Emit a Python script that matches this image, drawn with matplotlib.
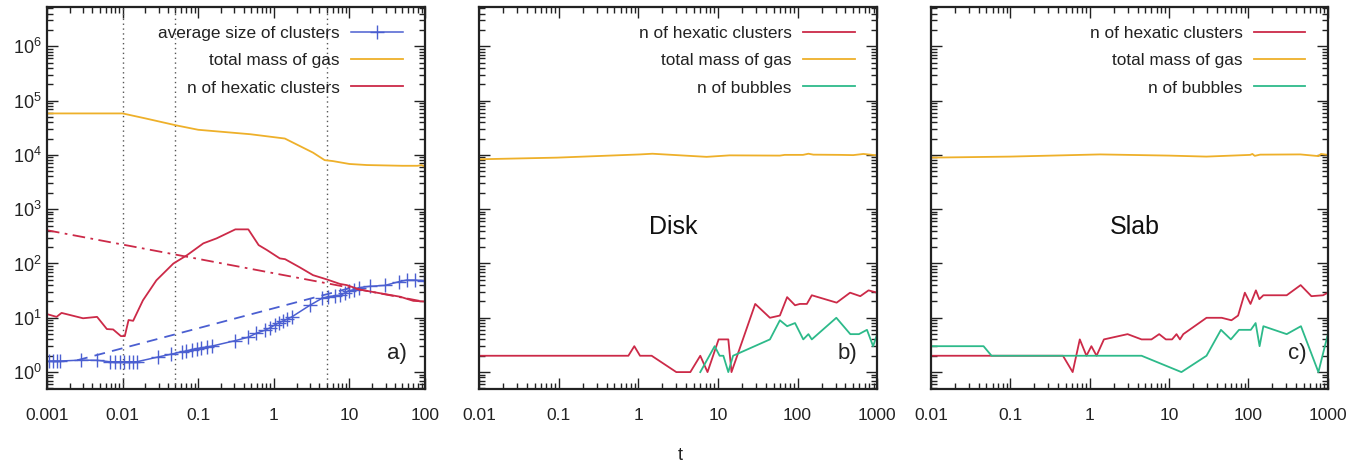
import matplotlib
matplotlib.use('Agg')
import matplotlib.pyplot as plt
from matplotlib.ticker import LogLocator, FixedLocator, FuncFormatter, NullFormatter

plt.rcParams['font.family'] = ['Liberation Sans', 'DejaVu Sans']
plt.rcParams['mathtext.fontset'] = 'custom'
plt.rcParams['mathtext.rm'] = 'Liberation Sans'
plt.rcParams['mathtext.it'] = 'Liberation Sans'

BLUE = '#4b5fd1'
ORANGE = '#eeb02a'
RED = '#cc2a48'
GREEN = '#2dba8a'

# ---- panel a) ----
a_size_t = [0.00107, 0.0012, 0.00134, 0.0015, 0.0028, 0.0046, 0.0068, 0.0079, 0.0093,
            0.0105, 0.012, 0.0136, 0.0154, 0.0296, 0.044, 0.061, 0.070, 0.082, 0.095,
            0.11, 0.13, 0.15, 0.31, 0.46, 0.59, 0.76, 0.89, 1.03, 1.17, 1.34, 1.51, 1.73,
            3.0, 4.3, 5.2, 6.4, 7.6, 8.8, 10, 11.5, 13.4, 18.6, 29.5, 44.6, 57, 74, 96]
a_size_v = [1.6, 1.6, 1.6, 1.6, 1.66, 1.65, 1.55, 1.55, 1.55,
            1.55, 1.55, 1.55, 1.55, 1.9, 2.14, 2.37, 2.45, 2.6, 2.7,
            2.8, 2.9, 3.0, 3.8, 4.4, 5.2, 5.9, 6.5, 7.4, 8.1, 8.8, 9.5, 10.4,
            17, 22.7, 24.4, 25.5, 26, 29, 31.5, 33, 36, 38, 39.5, 46, 49.5, 49.5, 48]

a_gas_t = [0.001, 0.003, 0.01, 0.02, 0.051, 0.1, 0.49, 1.4, 3.3, 4.7, 6, 10, 17, 50, 80, 90, 100]
a_gas_v = [58000, 58000, 58000, 47000, 35000, 29000, 24000, 20000, 11000, 8000, 7700,
           6800, 6500, 6300, 6300, 6500, 6000]

a_hex_t = [0.001, 0.00134, 0.00156, 0.003, 0.0046, 0.0062, 0.0075, 0.0095, 0.0107, 0.012,
           0.0138, 0.0186, 0.028, 0.047, 0.071, 0.117, 0.175, 0.31, 0.46, 0.63, 0.81,
           1.2, 1.41, 2.2, 3.3, 5.0, 7.5, 9.2, 13.8, 23, 47, 70, 96]
a_hex_v = [11.7, 10.4, 12.3, 9.8, 10.4, 6.2, 6.1, 4.6, 4.6, 9.1,
           8.8, 21, 49, 100, 142, 235, 290, 425, 425, 218, 177,
           124, 120, 85, 61, 51, 42, 40, 33, 29, 24.4, 20.5, 20]

# fitted guide lines (end points)
a_fit_hex_t = [0.001, 100]
a_fit_hex_v = [410, 19.6]
a_fit_size_t = [0.0025, 10]
a_fit_size_v = [1.65, 35]

a_marks = [0.01, 0.05, 5]

# ---- panel b) Disk ----
b_gas_t = [0.01, 0.095, 1.05, 1.5, 7.2, 14, 60, 69, 117, 137, 158, 345, 500, 670, 1000]
b_gas_v = [8300, 8900, 10200, 10500, 9200, 9800, 9700, 10000, 10000, 10500, 10100,
           10000, 9900, 10400, 9800]

b_hex_t = [0.01, 0.75, 0.89, 1.05, 1.47, 3.0, 4.5, 6.0, 7.4, 10.2, 13.5, 14.8, 29.4,
           45, 60, 74, 93, 107, 131, 151, 310, 457, 614, 780, 1000]
b_hex_v = [2, 2, 3, 2, 2, 1, 1, 2, 1, 4, 4, 1, 18,
           10, 11, 24, 17, 18, 18, 26, 19, 29, 25, 32, 29]

b_bub_t = [6.0, 9.1, 10.5, 11.7, 13.5, 15.5, 45, 60, 74, 93, 118, 137, 151, 307,
           460, 590, 745, 890, 1000]
b_bub_v = [1, 3, 2, 2, 1, 2, 4, 9, 7, 8, 4, 5, 4, 10,
           5, 5, 6, 3, 5]

# ---- panel c) Slab ----
c_gas_t = [0.01, 0.1, 1.35, 10, 29.5, 105, 112, 120, 140, 450, 760, 820, 1000]
c_gas_v = [8900, 9300, 10200, 9700, 9300, 10000, 10400, 9600, 10100, 10200, 9500,
           10400, 10000]

c_hex_t = [0.01, 0.46, 0.61, 0.75, 0.91, 1.05, 1.22, 1.51, 3.0, 4.5, 6.0, 7.5, 9.1,
           10.9, 12.4, 13.7, 15.1, 29.6, 46, 61, 74, 90, 106, 124, 137, 154, 303,
           454, 620, 870, 1000]
c_hex_v = [2, 2, 1, 4, 2, 3, 2, 4, 5, 4, 4, 5, 4,
           4, 5, 4, 5, 10, 10, 9, 11, 29, 18, 32, 22, 26, 26,
           40, 25, 26, 29]

c_bub_t = [0.01, 0.046, 0.058, 4.5, 14.3, 29.6, 45, 60, 76, 107, 123, 138, 154, 303,
           458, 760, 1000]
c_bub_v = [3, 3, 2, 2, 1, 2, 6, 4, 6, 6, 8, 3, 7, 5,
           7, 1, 5]

y_ticks = [1, 10, 100, 1000, 1e4, 1e5, 1e6]
tick_fmt = FuncFormatter(lambda v, p: '%g' % v)

fig = plt.figure(figsize=(13.65, 4.63), dpi=100)
ax_a = fig.add_axes([0.0344, 0.160, 0.277, 0.825])
ax_b = fig.add_axes([0.351, 0.160, 0.2916, 0.825])
ax_c = fig.add_axes([0.682, 0.160, 0.2908, 0.825])


def style_axis(ax, xticks, show_ylabels):
    ax.set_xscale('log')
    ax.set_yscale('log')
    ax.set_xlim(xticks[0], xticks[-1])
    ax.set_ylim(0.49, 5.3e6)
    ax.xaxis.set_major_locator(FixedLocator(xticks))
    ax.xaxis.set_minor_locator(LogLocator(base=10, subs=range(2, 10), numticks=50))
    ax.yaxis.set_major_locator(FixedLocator(y_ticks))
    ax.yaxis.set_minor_locator(LogLocator(base=10, subs=range(2, 10), numticks=50))
    ax.xaxis.set_major_formatter(tick_fmt)
    ax.xaxis.set_minor_formatter(NullFormatter())
    ax.yaxis.set_minor_formatter(NullFormatter())
    if not show_ylabels:
        ax.yaxis.set_major_formatter(NullFormatter())
    ax.tick_params(which='both', direction='in', top=True, right=True, width=1.0, color='#222222')
    ax.tick_params(which='major', length=8)
    ax.tick_params(which='minor', length=4)
    ax.tick_params(axis='x', which='major', pad=14, labelsize=12.5, labelcolor='#222222')
    ax.tick_params(axis='y', which='major', pad=4, labelsize=13, labelcolor='#222222')
    for s in ax.spines.values():
        s.set_linewidth(1.6)
        s.set_color('#222222')


# panel a
for m in a_marks:
    ax_a.axvline(m, color='#555555', linestyle=(0, (1, 2.5)), linewidth=1.0)
ax_a.plot(a_size_t, a_size_v, color=BLUE, lw=1.1, marker='+', ms=10, mew=1.0,
          label='average size of clusters')
ax_a.plot(a_gas_t, a_gas_v, color=ORANGE, lw=1.3, label='total mass of gas')
ax_a.plot(a_hex_t, a_hex_v, color=RED, lw=1.3, label='n of hexatic clusters')
ax_a.plot(a_fit_hex_t, a_fit_hex_v, color=RED, lw=1.3, linestyle=(0, (7, 3, 1.5, 3)))
ax_a.plot(a_fit_size_t, a_fit_size_v, color=BLUE, lw=1.3, linestyle=(0, (6, 4)))
style_axis(ax_a, [0.001, 0.01, 0.1, 1, 10, 100], True)
ax_a.text(0.926, 0.094, 'a)', transform=ax_a.transAxes, ha='center', va='center',
          fontsize=16, color='#222222')

# panel b
ax_b.plot(b_hex_t, b_hex_v, color=RED, lw=1.3, label='n of hexatic clusters')
ax_b.plot(b_gas_t, b_gas_v, color=ORANGE, lw=1.3, label='total mass of gas')
ax_b.plot(b_bub_t, b_bub_v, color=GREEN, lw=1.3, label='n of bubbles')
style_axis(ax_b, [0.01, 0.1, 1, 10, 100, 1000], False)
ax_b.text(0.487, 0.424, 'Disk', transform=ax_b.transAxes, ha='center', va='center',
          fontsize=18, color='#111111')
ax_b.text(0.925, 0.094, 'b)', transform=ax_b.transAxes, ha='center', va='center',
          fontsize=16, color='#222222')

# panel c
ax_c.plot(c_hex_t, c_hex_v, color=RED, lw=1.3, label='n of hexatic clusters')
ax_c.plot(c_gas_t, c_gas_v, color=ORANGE, lw=1.3, label='total mass of gas')
ax_c.plot(c_bub_t, c_bub_v, color=GREEN, lw=1.3, label='n of bubbles')
style_axis(ax_c, [0.01, 0.1, 1, 10, 100, 1000], False)
ax_c.text(0.514, 0.424, 'Slab', transform=ax_c.transAxes, ha='center', va='center',
          fontsize=18, color='#111111')
ax_c.text(0.924, 0.094, 'c)', transform=ax_c.transAxes, ha='center', va='center',
          fontsize=16, color='#222222')

for ax in (ax_a, ax_b, ax_c):
    leg = ax.legend(loc='upper right', bbox_to_anchor=(0.99, 1.0), frameon=False,
                    markerfirst=False, fontsize=12.4, handlelength=3.0,
                    handletextpad=0.65, labelspacing=0.72, borderaxespad=0.68)
    for txt in leg.get_texts():
        txt.set_color('#222222')

fig.text(0.498, 1 - 455 / 463, 't', ha='center', va='center', fontsize=13, color='#222222')

fig.savefig('out.png', dpi=100)
